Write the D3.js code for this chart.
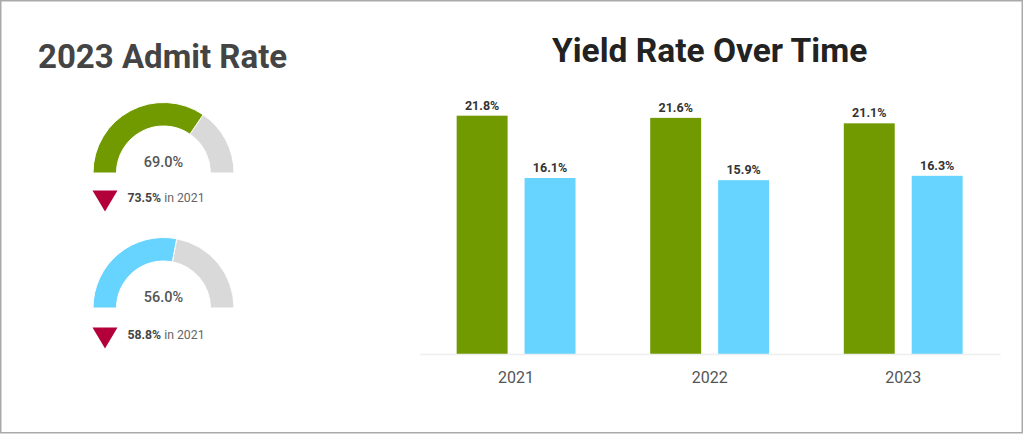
<!DOCTYPE html>
<html>
<head>
<meta charset="utf-8">
<script src="https://cdn.jsdelivr.net/npm/d3@7"></script>
<style>
  body { margin: 0; background: #fff; }
  svg { display: block; font-family: Roboto, "Noto Sans", sans-serif; }
</style>
</head>
<body>
<div id="chart"></div>
<script>
var width = 1024;
var height = 434;

// admit rate gauges
var gaugeNames = ['Overall', 'Group'];
var gaugeValues = [69.0, 56.0];
var gaugePrior = [73.5, 58.8];
var priorYear = '2021';

// yield rate bars
var years = ['2021', '2022', '2023'];
var seriesKeys = ['a', 'b'];
var seriesA = [21.8, 21.6, 21.1];
var seriesB = [16.1, 15.9, 16.3];

var green = '#709a00';
var blue = '#66d4ff';
var gray = '#d9d9d9';
var red = '#b3003a';

var svg = d3.select('#chart')
    .append('svg')
    .attr('width', width)
    .attr('height', height);

// outer frame
svg.append('rect')
    .attr('x', 0.75)
    .attr('y', 0.75)
    .attr('width', 1021.5)
    .attr('height', 432)
    .attr('fill', 'none')
    .attr('stroke', '#aaa')
    .attr('stroke-width', 1.5);

// ---- left panel: gauges ----
svg.append('text')
    .attr('x', 38)
    .attr('y', 68)
    .attr('font-size', 33)
    .attr('font-weight', 700)
    .attr('fill', '#444')
    .text('2023 Admit Rate');

var gaugeColors = [green, blue];
var gaugeCy = [173, 308];
var gaugeCx = 163.5;
var outerR = 70.5;
var innerR = 47;

var angle = d3.scaleLinear().domain([0, 100]).range([-Math.PI / 2, Math.PI / 2]);
var arc = d3.arc().innerRadius(innerR).outerRadius(outerR);

gaugeNames.forEach(function(name, i) {
    var g = svg.append('g')
        .attr('transform', `translate(${gaugeCx}, ${gaugeCy[i]})`);

    g.append('path')
        .attr('d', arc({startAngle: angle(gaugeValues[i]), endAngle: angle(100)}))
        .attr('fill', gray)
        .attr('stroke', '#fff')
        .attr('stroke-width', 1);

    g.append('path')
        .attr('d', arc({startAngle: angle(0), endAngle: angle(gaugeValues[i])}))
        .attr('fill', gaugeColors[i])
        .attr('stroke', '#fff')
        .attr('stroke-width', 1);

    g.append('text')
        .attr('x', 0)
        .attr('y', -6.5)
        .attr('text-anchor', 'middle')
        .attr('font-size', 14.5)
        .attr('font-weight', 500)
        .attr('fill', '#555')
        .text(gaugeValues[i].toFixed(1) + '%');

    // down arrow vs prior year
    var ty = i === 0 ? 17.5 : 19.5;
    g.append('path')
        .attr('d', `M${-71},${ty} L${-46},${ty} L${-58.5},${ty + 21} Z`)
        .attr('fill', red);

    var t = g.append('text')
        .attr('x', -36)
        .attr('y', ty + 11.5)
        .attr('font-size', 12.5)
        .attr('textLength', 77)
        .attr('lengthAdjust', 'spacingAndGlyphs')
        .attr('fill', '#666');
    t.append('tspan')
        .attr('font-weight', 700)
        .attr('fill', '#444')
        .text(gaugePrior[i].toFixed(1) + '%');
    t.append('tspan')
        .text(' in ' + priorYear);
});

// ---- right panel: grouped bars ----
var left = 419.3;
var right = 1000;
var baseY = 354;

svg.append('text')
    .attr('x', (left + right) / 2)
    .attr('y', 61.7)
    .attr('text-anchor', 'middle')
    .attr('font-size', 33.5)
    .attr('font-weight', 700)
    .attr('fill', '#222')
    .text('Yield Rate Over Time');

var x0 = d3.scaleBand()
    .domain(years)
    .range([left, right])
    .padding(0);

var x1 = d3.scaleBand()
    .domain(seriesKeys)
    .range([0, x0.bandwidth()])
    .paddingInner(0.25)
    .paddingOuter(0.55);

var y = d3.scaleLinear()
    .domain([0, 25])
    .range([baseY, 80.7]);

var rows = years.map(function(yr, i) {
    return {year: yr, values: [
        {key: 'a', value: seriesA[i]},
        {key: 'b', value: seriesB[i]}
    ]};
});
var barColor = d3.scaleOrdinal().domain(seriesKeys).range([green, blue]);

var groups = svg.selectAll('.group')
    .data(rows)
    .enter()
    .append('g')
    .attr('class', 'group')
    .attr('transform', (d) => `translate(${x0(d.year)}, 0)`);

groups.selectAll('rect')
    .data((d) => d.values)
    .enter()
    .append('rect')
    .attr('x', (d) => x1(d.key))
    .attr('y', (d) => y(d.value))
    .attr('width', x1.bandwidth())
    .attr('height', (d) => y(0) - y(d.value))
    .attr('fill', (d) => barColor(d.key));

groups.selectAll('.val')
    .data((d) => d.values)
    .enter()
    .append('text')
    .attr('class', 'val')
    .attr('x', (d) => x1(d.key) + x1.bandwidth() / 2)
    .attr('y', (d) => y(d.value) - 6)
    .attr('text-anchor', 'middle')
    .attr('font-size', 12.5)
    .attr('font-weight', 700)
    .attr('fill', '#333')
    .text((d) => d.value.toFixed(1) + '%');

var axis = d3.axisBottom(x0).tickSize(0).tickPadding(18);
var ax = svg.append('g')
    .attr('transform', `translate(0, ${baseY})`)
    .call(axis);
ax.select('.domain')
    .attr('stroke', '#eee')
    .attr('stroke-width', 1.5);
ax.selectAll('text')
    .attr('font-family', 'Roboto, sans-serif')
    .attr('font-size', 16)
    .attr('fill', '#555');
</script>
</body>
</html>
